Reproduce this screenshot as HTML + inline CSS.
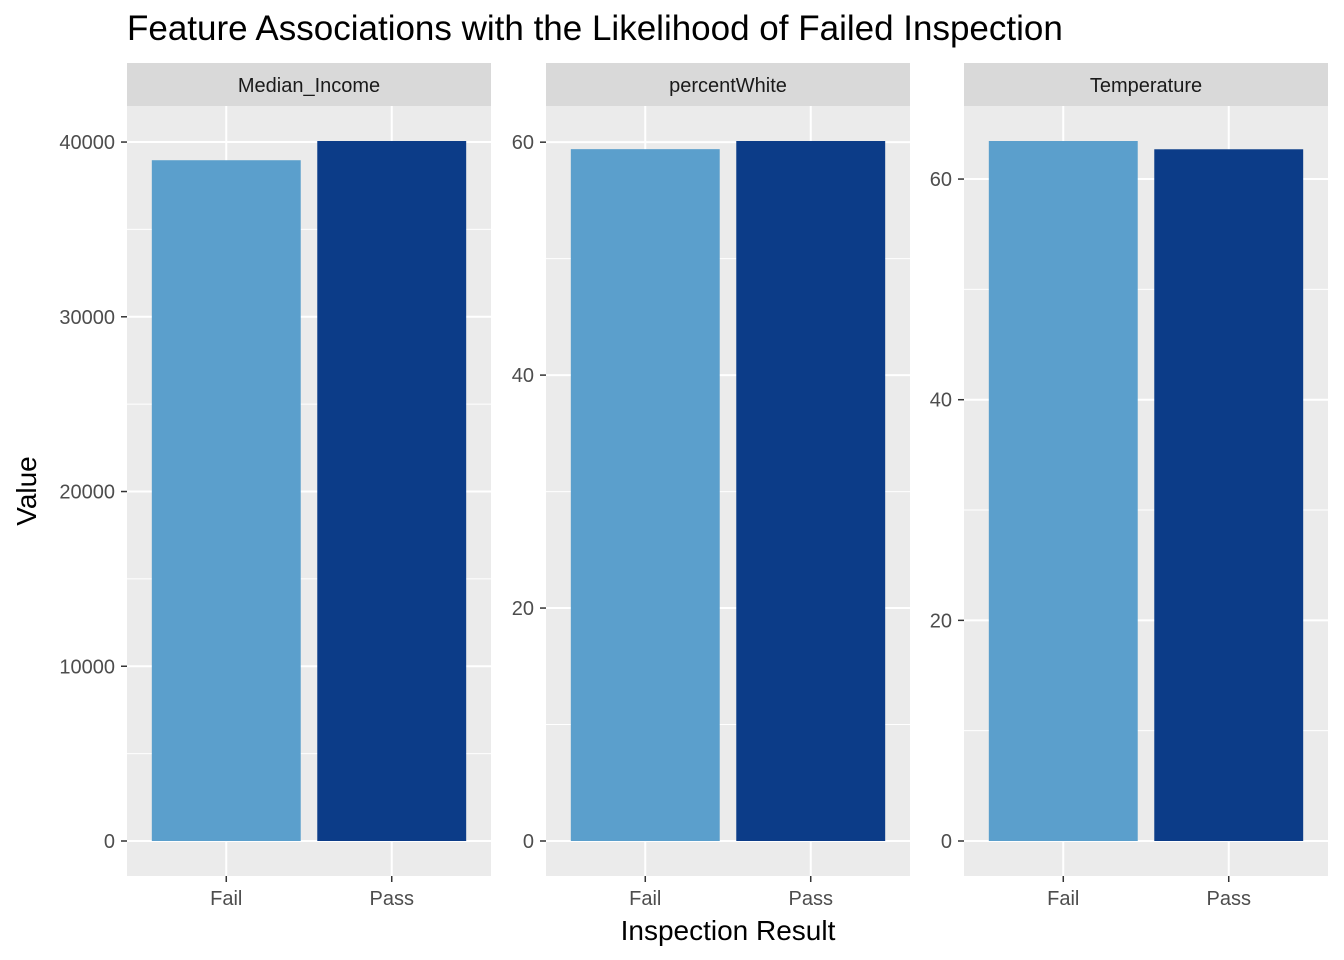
<!DOCTYPE html>
<html><head><meta charset="utf-8"><style>
body{margin:0;background:#fff;}
svg{display:block;font-family:"Liberation Sans",Arial,sans-serif;}
</style></head><body>
<svg id="chart" width="1344" height="960">
<text x="127" y="40" font-size="35" fill="#000">Feature Associations with the Likelihood of Failed Inspection</text>
<text x="36" y="491" font-size="28" fill="#000" text-anchor="middle" transform="rotate(-90 36 491)">Value</text>
<text x="728" y="940" font-size="28" fill="#000" text-anchor="middle">Inspection Result</text>
</svg>
<script>
const categories = ["Fail", "Pass"];
const facets = ["Median_Income", "percentWhite", "Temperature"];
const incomeValues = [38960, 40060];
const whiteValues = [59.4, 60.1];
const tempValues = [63.45, 62.7];
const incomeTicks = [0, 10000, 20000, 30000, 40000];
const whiteTicks = [0, 20, 40, 60];
const tempTicks = [0, 20, 40, 60];

const svgEl = document.getElementById('chart');
const NS = 'http://www.w3.org/2000/svg';
function mk(tag, attrs, parent){const e=document.createElementNS(NS,tag);for(const k in attrs)e.setAttribute(k,attrs[k]);(parent||svgEl).appendChild(e);return e;}
const barColors = ["#5b9fcc", "#0c3c88"];
const panelX = [127, 546, 964], panelW = 364, plotTop = 106, plotBottom = 876, stripTop = 63;
const seriesList = [incomeValues, whiteValues, tempValues];
const tickList = [incomeTicks, whiteTicks, tempTicks];

facets.forEach((f, i) => {
  const vals = seriesList[i], tk = tickList[i];
  const x0 = panelX[i];
  const lo = -0.05 * Math.max(...vals), hi = Math.max(...vals) * 1.05;
  const ys = v => plotBottom - (v - lo) / (hi - lo) * (plotBottom - plotTop);
  const unit = panelW / 2.2;
  const xs = k => x0 + (0.6 + k) * unit;
  const g = mk('g', {});
  
  
  const bg = mk('rect', {x:x0, y:plotTop, width:panelW, height:plotBottom-plotTop, fill:'#ebebeb'}, g);
  
  
  const st = mk('rect', {x:x0, y:stripTop, width:panelW, height:plotTop-stripTop, fill:'#d9d9d9'}, g);
  
  
  const stt = mk('text', {x:x0+panelW/2, y:92, 'font-size':20, fill:'#1a1a1a', 'text-anchor':'middle'}, g);
  stt.textContent = f;
  
  
  const step = tk[1] - tk[0];
  for (let v = tk[0] + step/2; ys(v) > plotTop; v += step) {
    mk('line', {x1:x0, x2:x0+panelW, y1:ys(v), y2:ys(v), stroke:'#fff', 'stroke-width':1}, g);
  }
  tk.forEach(v => {
    mk('line', {x1:x0, x2:x0+panelW, y1:ys(v), y2:ys(v), stroke:'#fff', 'stroke-width':2}, g);
    mk('line', {x1:x0-6, x2:x0, y1:ys(v), y2:ys(v), stroke:'#333', 'stroke-width':1.5}, g);
    const t = mk('text', {x:x0-12, y:ys(v)+7, 'font-size':20, fill:'#4d4d4d', 'text-anchor':'end'}, g);
    t.textContent = v;
    
    
  });
  categories.forEach((c, k) => {
    mk('line', {x1:xs(k), x2:xs(k), y1:plotTop, y2:plotBottom, stroke:'#fff', 'stroke-width':2}, g);
    mk('line', {x1:xs(k), x2:xs(k), y1:plotBottom, y2:plotBottom+6, stroke:'#333', 'stroke-width':1.5}, g);
    const t = mk('text', {x:xs(k), y:905, 'font-size':20, fill:'#4d4d4d', 'text-anchor':'middle'}, g);
    t.textContent = c;
    
    
  });
  categories.forEach((c, k) => {
    const bw = 0.9 * unit;
    const b = mk('rect', {x:xs(k)-bw/2, y:ys(vals[k]), width:bw, height:ys(0)-ys(vals[k]), fill:barColors[k]}, g);
    
    
  });
});
</script>
</body></html>
